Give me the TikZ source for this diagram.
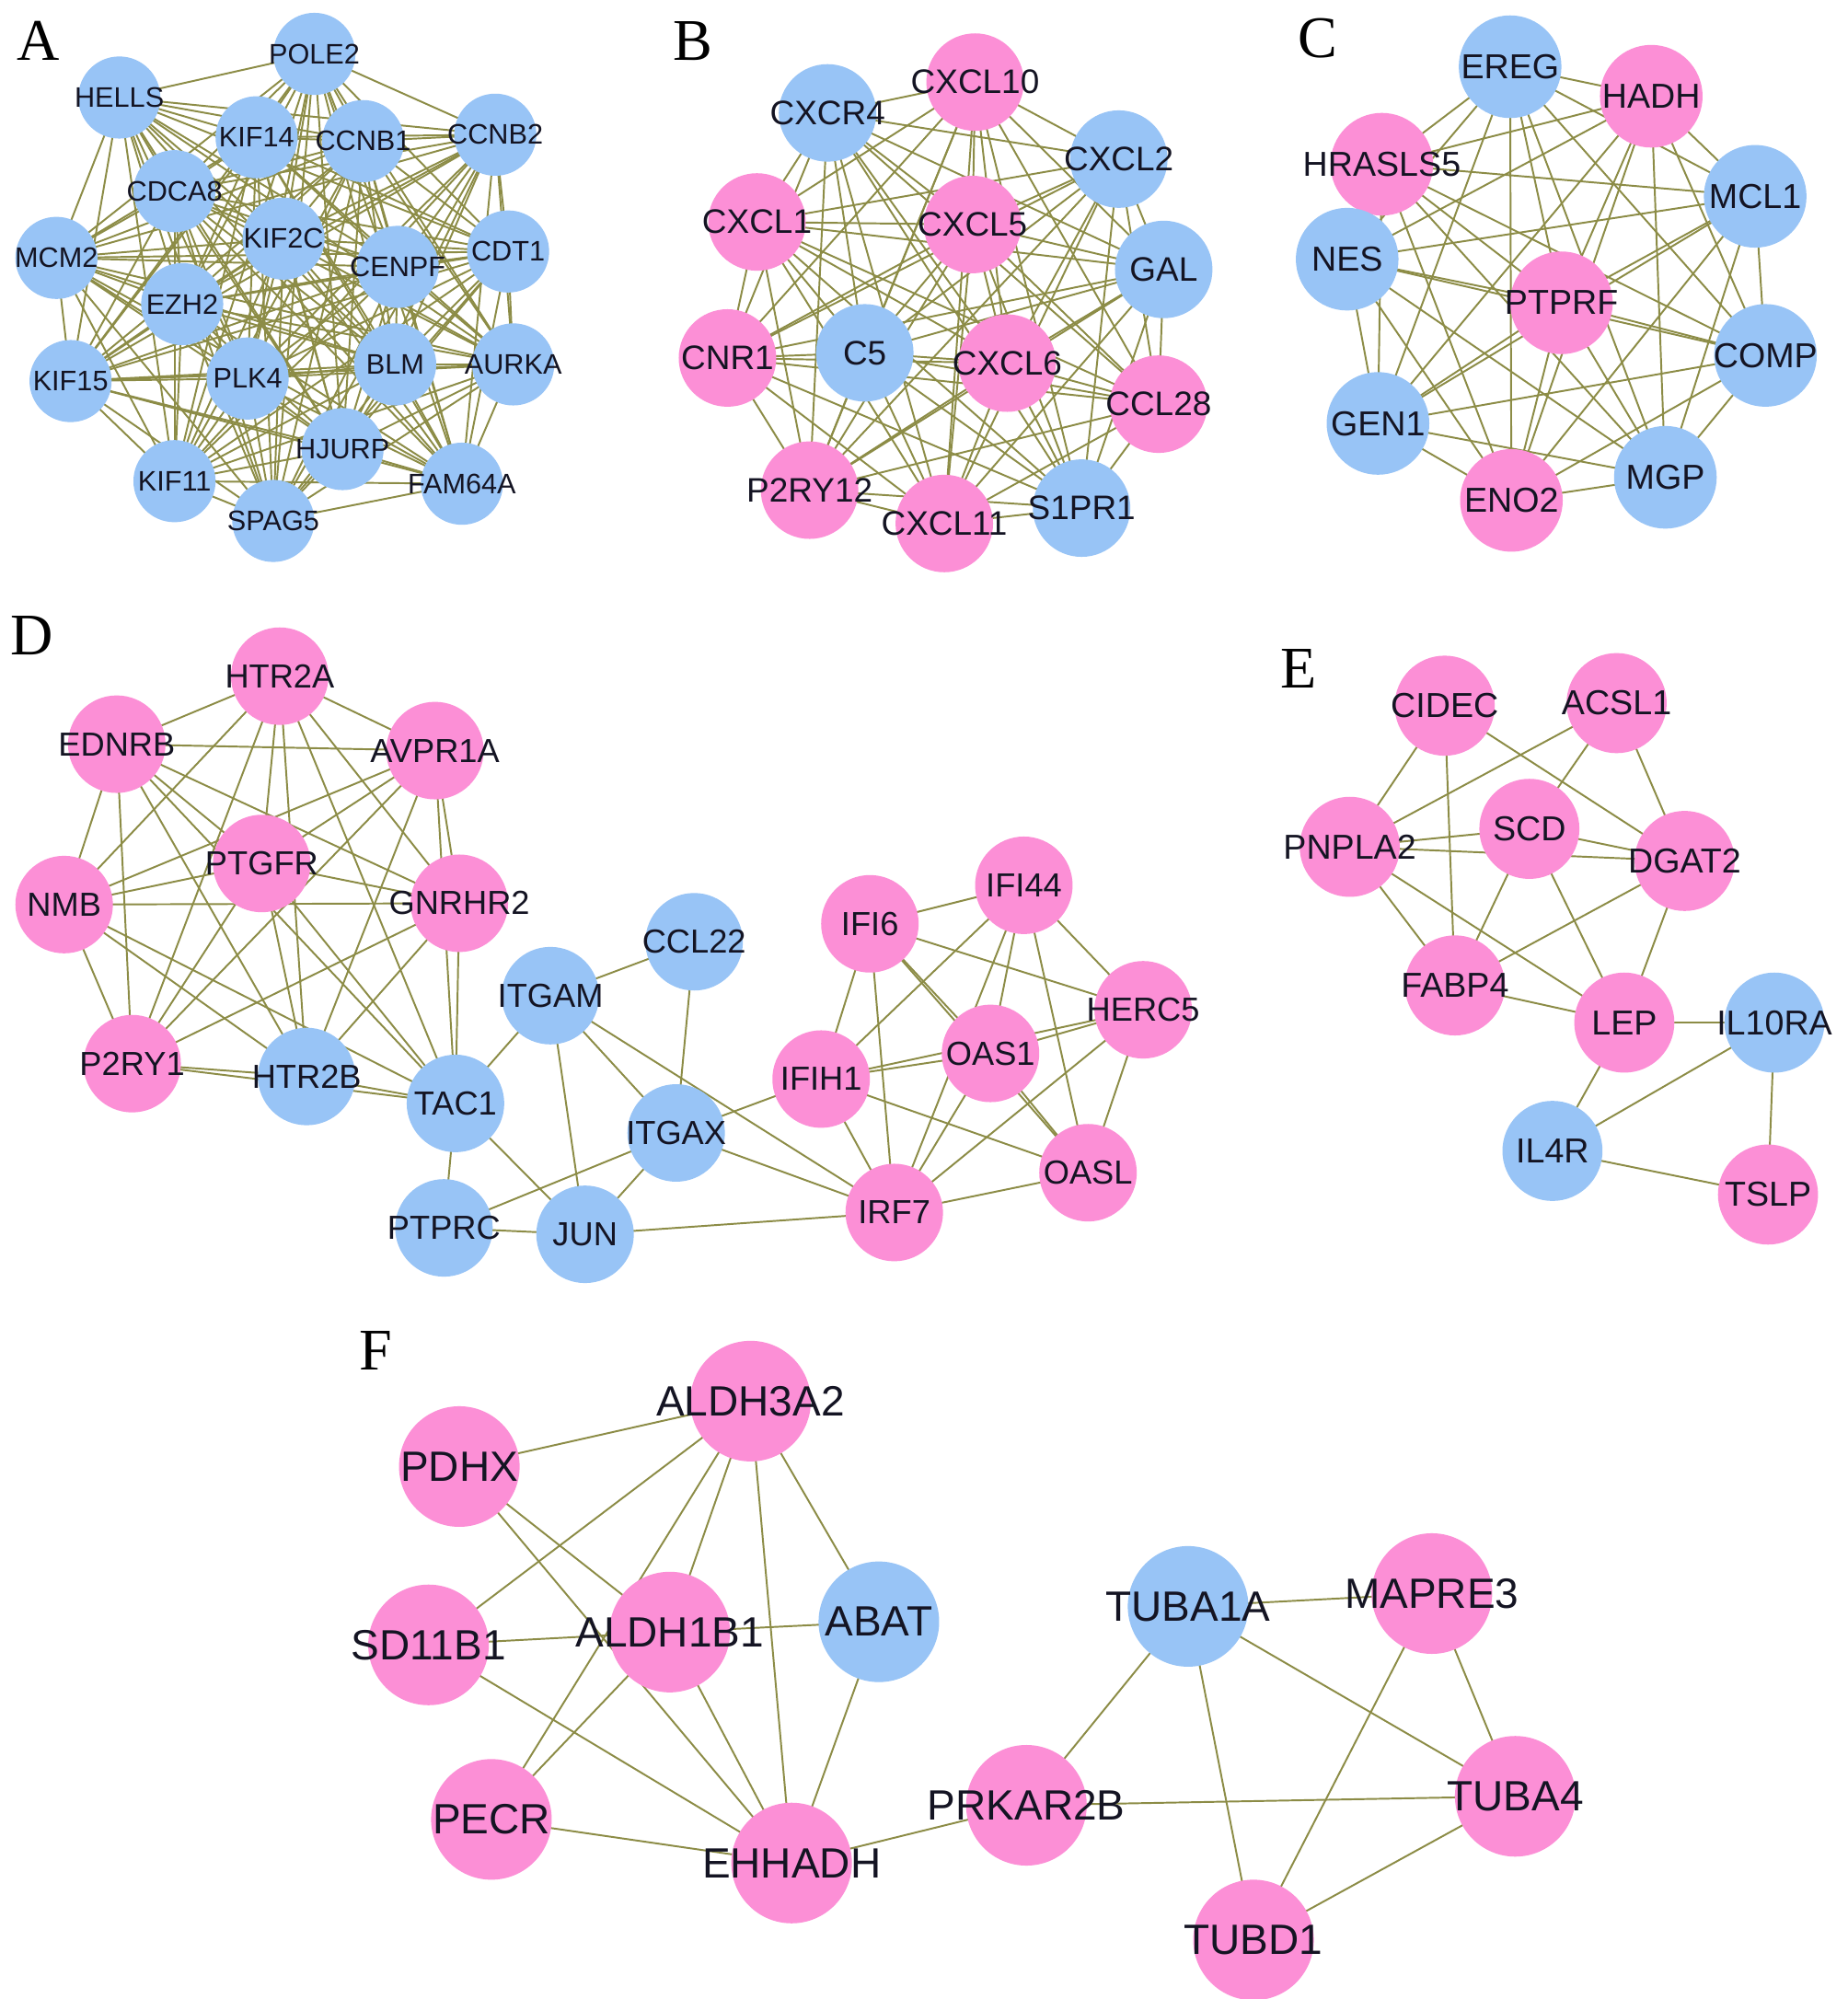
\documentclass[tikz,border=0pt]{standalone}
\usepackage{fontspec}
\setmainfont{Liberation Serif}
\newfontfamily\arialf{Liberation Sans}
\pgfdeclarelayer{paper}
\pgfdeclarelayer{edges}
\pgfsetlayers{paper,edges,main}
\definecolor{nblue}{RGB}{152,196,246}
\definecolor{npink}{RGB}{252,143,214}
\definecolor{edgec}{RGB}{140,140,70}
\definecolor{txt}{RGB}{20,20,35}
\tikzset{
  gnode/.style={circle,inner sep=0pt,text=txt,
    execute at begin node={\hbox to 0pt\bgroup\hss},
    execute at end node={\hss\egroup}},
  nA/.style={gnode,minimum size=64pt,font=\arialf\fontsize{22}{22}\selectfont},
  nB/.style={gnode,minimum size=76pt,font=\arialf\fontsize{26.5}{26.5}\selectfont},
  nC/.style={gnode,minimum size=80pt,font=\arialf\fontsize{27}{27}\selectfont},
  nD/.style={gnode,minimum size=76pt,font=\arialf\fontsize{26}{26}\selectfont},
  nE/.style={gnode,minimum size=78pt,font=\arialf\fontsize{27}{27}\selectfont},
  nF/.style={gnode,minimum size=94pt,font=\arialf\fontsize{33}{33}\selectfont},
  bl/.style={fill=nblue},
  pk/.style={fill=npink},
  panel/.style={font=\fontsize{46}{46}\selectfont,text=black,inner sep=0pt},
  edge/.style={draw=edgec,line width=1.4pt}
}
\begin{document}
\begin{tikzpicture}[x=1pt,y=-1pt]
\begin{pgfonlayer}{paper}
\fill[white] (0,0) rectangle (1440,1558);
\end{pgfonlayer}
\useasboundingbox (0,0) rectangle (1440,1558);
% panel letters
\node[panel] (LA) at (30,32) {A};
\node[panel] (LB) at (540,32) {B};
\node[panel] (LC) at (1027,30) {C};
\node[panel] (LD) at (25,495) {D};
\node[panel] (LE) at (1012,521) {E};
\node[panel] (LF) at (293,1053) {F};
% ---------------- A
\foreach \n/\x/\y in {POLE2/245/42,HELLS/93/76,KIF14/200/107,CCNB1/283/110,CCNB2/386/105,
  CDCA8/136/149,KIF2C/221/186,CENPF/310/208,CDT1/396/196,MCM2/44/201,EZH2/142/237,
  KIF15/55/297,PLK4/193/295,BLM/308/284,AURKA/400/284,HJURP/267/350,KIF11/136/375,
  FAM64A/360/377,SPAG5/213/406}
  \node[nA,bl] (\n) at (\x,\y) {\n};
% ---------------- B
\foreach \n/\x/\y/\c in {CXCL10/760/64/pk,CXCR4/645/88/bl,CXCL2/872/124/bl,CXCL1/590/173/pk,
  CXCL5/758/175/pk,GAL/907/210/bl,CNR1/567/279/pk,C5/674/275/bl,CXCL6/785/283/pk,
  CCL28/903/315/pk,P2RY12/631/382/pk,CXCL11/736/408/pk,S1PR1/843/396/bl}
  \node[nB,\c] (\n) at (\x,\y) {\n};
% ---------------- C
\foreach \n/\x/\y/\c in {EREG/1177/52/bl,HADH/1287/75/pk,HRASLS5/1077/128/pk,MCL1/1368/153/bl,
  NES/1050/202/bl,PTPRF/1217/236/pk,COMP/1376/277/bl,GEN1/1074/330/bl,MGP/1298/372/bl,
  ENO2/1178/390/pk}
  \node[nC,\c] (\n) at (\x,\y) {\n};
% ---------------- D
\foreach \n/\x/\y/\c in {HTR2A/218/527/pk,EDNRB/91/580/pk,AVPR1A/339/585/pk,PTGFR/204/673/pk,
  NMB/50/705/pk,GNRHR2/358/704/pk,P2RY1/103/829/pk,HTR2B/239/839/bl,TAC1/355/860/bl,
  ITGAM/429/776/bl,CCL22/541/734/bl,ITGAX/527/883/bl,PTPRC/346/957/bl,JUN/456/962/bl,
  IFI6/678/720/pk,IFI44/798/690/pk,HERC5/891/787/pk,IFIH1/640/841/pk,OAS1/772/821/pk,
  OASL/848/914/pk,IRF7/697/945/pk}
  \node[nD,\c] (\n) at (\x,\y) {\n};
% ---------------- E
\foreach \n/\x/\y/\c in {CIDEC/1126/550/pk,ACSL1/1260/548/pk,PNPLA2/1052/660/pk,SCD/1192/646/pk,
  DGAT2/1313/671/pk,FABP4/1134/768/pk,LEP/1266/797/pk,IL10RA/1383/797/bl,IL4R/1210/897/bl,
  TSLP/1378/931/pk}
  \node[nE,\c] (\n) at (\x,\y) {\n};
% ---------------- F
\foreach \n/\x/\y/\c in {ALDH3A2/585/1092/pk,PDHX/358/1143/pk,SD11B1/334/1282/pk,
  ALDH1B1/522/1272/pk,ABAT/685/1264/bl,PECR/383/1418/pk,EHHADH/617/1452/pk,
  PRKAR2B/800/1407/pk,TUBA1A/926/1252/bl,MAPRE3/1116/1242/pk,TUBA4/1181/1400/pk,
  TUBD1/977/1512/pk}
  \node[nF,\c] (\n) at (\x,\y) {\n};
% ================= edges
\begin{pgfonlayer}{edges}
% A: dense (complete)
\foreach \a [count=\i] in {POLE2,HELLS,KIF14,CCNB1,CCNB2,CDCA8,KIF2C,CENPF,CDT1,MCM2,EZH2,KIF15,PLK4,BLM,AURKA,HJURP,KIF11,FAM64A,SPAG5}
  \foreach \b [count=\j] in {POLE2,HELLS,KIF14,CCNB1,CCNB2,CDCA8,KIF2C,CENPF,CDT1,MCM2,EZH2,KIF15,PLK4,BLM,AURKA,HJURP,KIF11,FAM64A,SPAG5}
    {\ifnum\j>\i \draw[edge] (\a.center) -- (\b.center);\fi}
% B
\foreach \a [count=\i] in {CXCL10,CXCR4,CXCL2,CXCL1,CXCL5,GAL,CNR1,C5,CXCL6,CCL28,P2RY12,CXCL11,S1PR1}
  \foreach \b [count=\j] in {CXCL10,CXCR4,CXCL2,CXCL1,CXCL5,GAL,CNR1,C5,CXCL6,CCL28,P2RY12,CXCL11,S1PR1}
    {\ifnum\j>\i \draw[edge] (\a.center) -- (\b.center);\fi}
% C
\foreach \a [count=\i] in {EREG,HADH,HRASLS5,MCL1,NES,PTPRF,COMP,GEN1,MGP,ENO2}
  \foreach \b [count=\j] in {EREG,HADH,HRASLS5,MCL1,NES,PTPRF,COMP,GEN1,MGP,ENO2}
    {\ifnum\j>\i \draw[edge] (\a.center) -- (\b.center);\fi}
% D left cluster (complete)
\foreach \a [count=\i] in {HTR2A,EDNRB,AVPR1A,PTGFR,NMB,GNRHR2,P2RY1,HTR2B,TAC1}
  \foreach \b [count=\j] in {HTR2A,EDNRB,AVPR1A,PTGFR,NMB,GNRHR2,P2RY1,HTR2B,TAC1}
    {\ifnum\j>\i \draw[edge] (\a.center) -- (\b.center);\fi}
% D middle and right
\foreach \a/\b in {TAC1/ITGAM,TAC1/PTPRC,TAC1/JUN,ITGAM/CCL22,ITGAM/JUN,ITGAM/ITGAX,ITGAM/IRF7,
  CCL22/ITGAX,ITGAX/PTPRC,ITGAX/JUN,ITGAX/IFIH1,ITGAX/IRF7,PTPRC/JUN,JUN/IRF7,
  IFI6/IFI44,IFI6/HERC5,IFI6/IFIH1,IFI6/OAS1,IFI6/OASL,IFI6/IRF7,
  IFI44/IFIH1,IFI44/OAS1,IFI44/IRF7,IFI44/OASL,IFI44/HERC5,
  HERC5/OAS1,HERC5/IFIH1,HERC5/IRF7,HERC5/OASL,
  IFIH1/OAS1,IFIH1/IRF7,IFIH1/OASL,OAS1/IRF7,OAS1/OASL,OASL/IRF7}
  \draw[edge] (\a.center) -- (\b.center);
% E
\foreach \a/\b in {CIDEC/PNPLA2,CIDEC/FABP4,CIDEC/DGAT2,ACSL1/PNPLA2,ACSL1/SCD,ACSL1/DGAT2,
  PNPLA2/SCD,PNPLA2/DGAT2,PNPLA2/FABP4,PNPLA2/LEP,SCD/DGAT2,SCD/FABP4,SCD/LEP,
  DGAT2/FABP4,DGAT2/LEP,FABP4/LEP,LEP/IL10RA,LEP/IL4R,IL4R/IL10RA,IL4R/TSLP,IL10RA/TSLP}
  \draw[edge] (\a.center) -- (\b.center);
% F
\foreach \a/\b in {PDHX/ALDH3A2,ALDH3A2/SD11B1,ALDH3A2/ALDH1B1,ALDH3A2/PECR,ALDH3A2/EHHADH,
  ALDH3A2/ABAT,PDHX/ALDH1B1,PDHX/EHHADH,SD11B1/ALDH1B1,ALDH1B1/ABAT,SD11B1/EHHADH,
  ALDH1B1/EHHADH,PECR/ALDH1B1,ABAT/EHHADH,PECR/EHHADH,EHHADH/PRKAR2B,
  PRKAR2B/TUBA1A,PRKAR2B/TUBA4,TUBA1A/MAPRE3,TUBA1A/TUBA4,TUBA1A/TUBD1,
  MAPRE3/TUBA4,MAPRE3/TUBD1,TUBA4/TUBD1}
  \draw[edge] (\a.center) -- (\b.center);
\end{pgfonlayer}
\end{tikzpicture}
\end{document}
